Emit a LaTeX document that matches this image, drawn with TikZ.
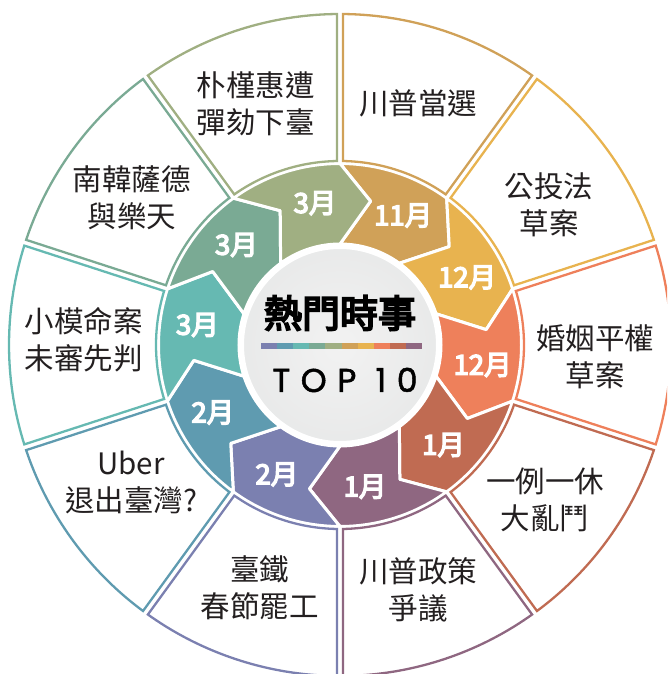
\documentclass[tikz,border=0pt]{standalone}
\usepackage{fontspec}
\setmainfont{Noto Sans CJK TC}
\newfontfamily\monthfont{Noto Sans CJK TC}[FakeBold=5]
\newfontfamily\titlefont{Noto Sans CJK TC}[FakeBold=5]
\newfontfamily\topfont{Poppins}[LetterSpace=32,FakeBold=1.5]

\definecolor{ink}{HTML}{231F20}
\definecolor{secA}{HTML}{D0A158}
\definecolor{secB}{HTML}{E8B34F}
\definecolor{secC}{HTML}{EE805B}
\definecolor{secD}{HTML}{C06B52}
\definecolor{secE}{HTML}{8F6781}
\definecolor{secF}{HTML}{7B80B0}
\definecolor{secG}{HTML}{5F9BB0}
\definecolor{secH}{HTML}{66B9B2}
\definecolor{secI}{HTML}{7AAA94}
\definecolor{secJ}{HTML}{A0AF82}
\definecolor{discin}{HTML}{F2F2F2}
\definecolor{discmid}{HTML}{E6E7E7}
\definecolor{discout}{HTML}{BFC1C2}
\pgfdeclareradialshading{discshade}{\pgfpoint{0bp}{0bp}}{color(0bp)=(discin); color(32bp)=(discmid); color(46bp)=(discmid); color(50bp)=(discout)}

\tikzset{
	event/.style={align=center, text=ink, inner sep=0pt, font=\fontsize{29.5}{37}\selectfont},
	month/.style={text=white, inner sep=0pt, font=\monthfont\fontsize{27.5}{27.5}\selectfont},
}

\begin{document}
\begin{tikzpicture}[x=1pt,y=1pt]

		\clip (-340,-329) rectangle (327,345);

		%% Ring and boxes %%
		\foreach \col [count=\k] in {secA,secB,secC,secD,secE,secF,secG,secH,secI,secJ} {
			\pgfmathsetmacro\a{126-36*\k}
			\pgfmathsetmacro\b{\a-36}
			\pgfmathsetmacro\at{\a-12}
			\pgfmathsetmacro\bt{\b-12}
			% ring piece
			\filldraw[fill=\col, draw=white, line width=3pt, line join=round]
				(\a:181.5) -- (\at:147) -- (\a:101)
				arc[start angle=\a, end angle=\b, radius=101]
				-- (\bt:147) -- (\b:181.5)
				arc[start angle=\b, end angle=\a, radius=181.5] -- cycle;
			% box outline
			\pgfmathsetmacro\ai{\a-0.93}
			\pgfmathsetmacro\ao{\a-0.52}
			\pgfmathsetmacro\bi{\b+0.93}
			\pgfmathsetmacro\bo{\b+0.52}
			\draw[\col, line width=2.3pt]
				(\ai:184) -- (\ao:331)
				arc[start angle=\ao, end angle=\bo, radius=331]
				-- (\bi:184)
				arc[start angle=\bi, end angle=\ai, radius=184] -- cycle;
		}

		% months
		\foreach \mon [count=\k] in {11月,12月,12月,1月,1月,2月,2月,3月,3月,3月} {
			\pgfmathsetmacro\m{100-36*\k}
			\node[month] (mon\k) at (\m:144) {\mon};
		}

		% centre disc
		\shade[shading=discshade] (0,0) circle (98);
		\draw[white, line width=4pt] (0,0) circle (98);
		\node[font=\titlefont\fontsize{38}{38}\selectfont, inner sep=0pt] (title) at (0,32) {熱門時事};
		\foreach \col [count=\k] in {secF,secG,secH,secI,secJ,secA,secB,secC,secD,secE}
			\fill[\col] (-79+16.1*\k-16.1,-4) rectangle (-79+16.1*\k,2);
		\node[font=\topfont\fontsize{33}{33}\selectfont, inner sep=0pt] (top) at (5,-35) {TOP 10};

		%% Events %%
		\node[event] (trump)   at (78,242)    {川普當選};
		\node[event] (vote)    at (209,140)   {公投法\\草案};
		\node[event] (marry)   at (255,-12)   {婚姻平權\\草案};
		\node[event] (rest)    at (205,-155)  {一例一休\\大亂鬥};
		\node[event] (policy)  at (78,-245)   {川普政策\\爭議};
		\node[event] (rail)    at (-80,-243)  {臺鐵\\春節罷工};
		\node[event] (uber)    at (-209,-137) {Uber\\退出臺灣?};
		\node[event] (model)   at (-256,5)    {小模命案\\未審先判};
		\node[event] (thaad)   at (-208,147)  {南韓薩德\\與樂天};
		\node[event] (park)    at (-84,241)   {朴槿惠遭\\彈劾下臺};

\end{tikzpicture}
\end{document}
